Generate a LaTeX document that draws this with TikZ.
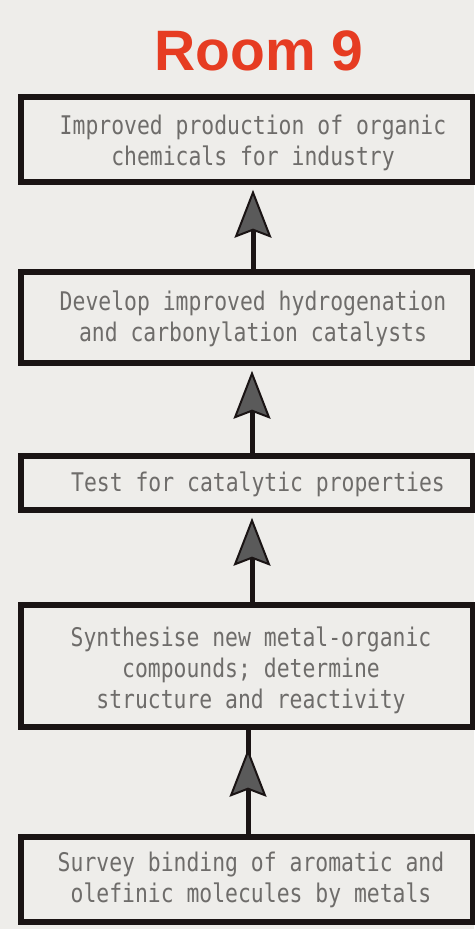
\documentclass[tikz,border=0pt]{standalone}
\usepackage{fontspec}
\setmainfont{Liberation Sans}
\newfontfamily\boxfont{DejaVu Sans Mono}
\usetikzlibrary{arrows.meta,calc}
\definecolor{bgc}{HTML}{EEEDEA}
\definecolor{titlered}{HTML}{E63C22}
\definecolor{txtgray}{HTML}{6E6C6A}
\definecolor{tipgray}{HTML}{5A5A5A}
\definecolor{linec}{HTML}{1A1414}
\newcommand{\boxtext}[1]{\scalebox{1}[1.2]{\begin{tabular}{@{}c@{}}#1\end{tabular}}}
\begin{document}
\begin{tikzpicture}[x=1pt,y=-1pt,
  stepbox/.style={draw=linec, line width=5.5pt, rectangle, inner sep=0pt, minimum width=452pt},
  boxlabel/.style={text=txtgray, font=\boxfont\fontsize{21.4}{26}\selectfont, inner sep=0pt},
  shaft/.style={draw=linec, line width=5pt},
  tip/.style={-{Stealth[length=48pt,width=37pt,inset=7pt,line width=2pt,fill=tipgray]}}
]
\fill[bgc] (0,0) rectangle (474,929);
\useasboundingbox (0,0) rectangle (474,929);

\node[font=\bfseries\fontsize{57}{60}\selectfont, text=titlered, anchor=base, inner sep=0pt] (title) at (259,70) {Room 9};

\node[stepbox, minimum height=85pt] (b1) at (247,139.5) {};
\node[stepbox, minimum height=91pt] (b2) at (247,317.5) {};
\node[stepbox, minimum height=54pt] (b3) at (247,483) {};
\node[stepbox, minimum height=122pt] (b4) at (247,666) {};
\node[stepbox, minimum height=85pt] (b5) at (247,879.5) {};

\node[boxlabel] (t1) at (253,144) {\boxtext{Improved production of organic\\chemicals for industry}};
\node[boxlabel] (t2) at (253,320) {\boxtext{Develop improved hydrogenation\\and carbonylation catalysts}};
\node[boxlabel] (t3) at (258,485) {\boxtext{Test for catalytic properties}};
\node[boxlabel] (t4) at (251,671) {\boxtext{Synthesise new metal-organic\\compounds; determine\\structure and reactivity}};
\node[boxlabel] (t5) at (251,881) {\boxtext{Survey binding of aromatic and\\olefinic molecules by metals}};

\draw[shaft, tip, shorten >=5pt] ($(b2.north)+(6,0)$) -- ($(b1.south)+(6,0)$);
\draw[shaft, tip, shorten >=5pt] ($(b3.north)+(5,0)$) -- ($(b2.south)+(5,0)$);
\draw[shaft, tip, shorten >=5pt] ($(b4.north)+(5,0)$) -- ($(b3.south)+(5,0)$);
\draw[shaft] ($(b5.north)+(1,0)$) -- ($(b4.south)+(1,0)$);
\draw[shaft, tip, shorten >=19pt] ($(b5.north)+(1,0)$) -- ($(b4.south)+(1,0)$);
\end{tikzpicture}
\end{document}
